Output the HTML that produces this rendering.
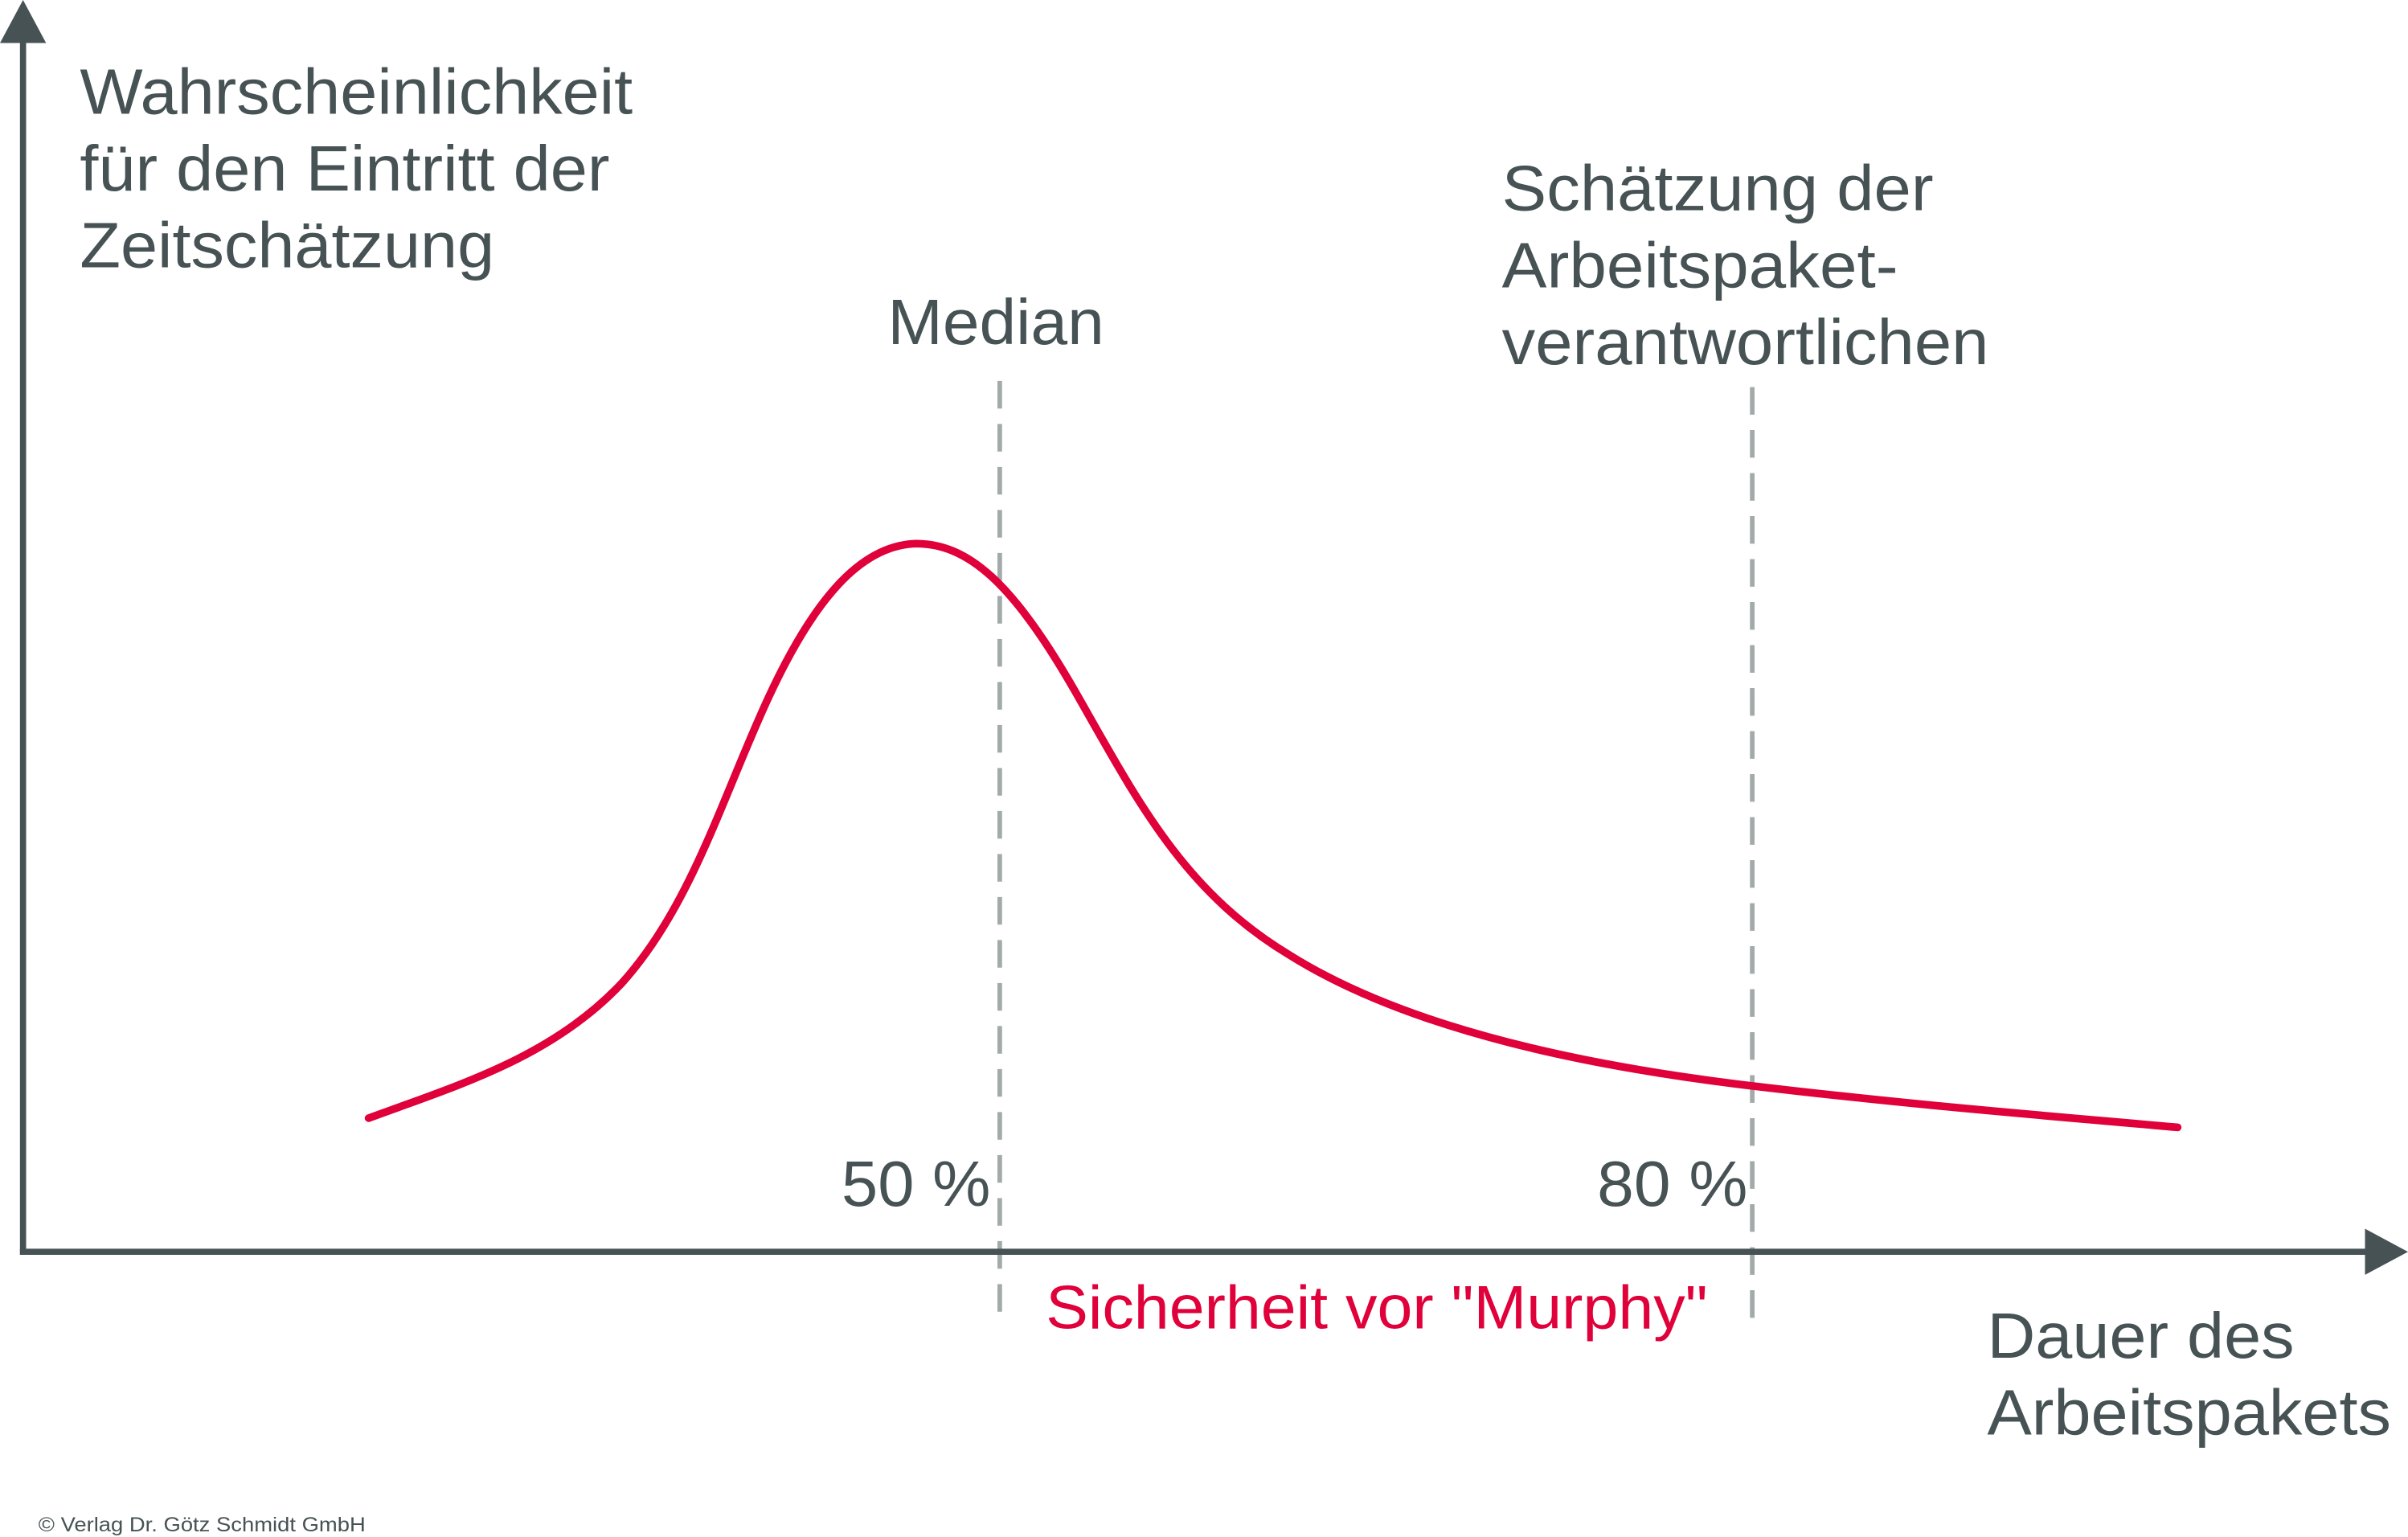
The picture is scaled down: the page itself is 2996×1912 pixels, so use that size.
<!DOCTYPE html>
<html><head><meta charset="utf-8"><style>html,body{margin:0;padding:0;background:#fff}svg{display:block}</style></head>
<body>
<svg width="2996" height="1912" viewBox="0 0 1568 1000.7" preserveAspectRatio="none" xmlns="http://www.w3.org/2000/svg" font-family="Liberation Sans, sans-serif">
<g stroke="#a3aaaa" stroke-width="3" stroke-dasharray="18,10">
<line x1="651" y1="248" x2="651" y2="860"/>
<line x1="1141" y1="252" x2="1141" y2="860"/>
</g>
<path d="M240,728 C300,706 360,688 405,640 C450,590 470,520 500,455 C530,390 560,356 595,354 C630,353 660,380 700,450 C740,520 770,580 840,622 C920,672 1040,695 1141,707 C1250,720 1340,727 1418,734" fill="none" stroke="#e0003a" stroke-width="5" stroke-linecap="round"/>
<g stroke="#465254" stroke-width="4" fill="#465254">
<line x1="15" y1="26" x2="15" y2="817"/>
<line x1="13" y1="815" x2="1542" y2="815"/>
</g>
<polygon points="15,0 0,28 30,28" fill="#465254"/>
<polygon points="1568,815 1540,800 1540,830" fill="#465254"/>
<g fill="#465254" font-size="42">
<text x="52" y="74" textLength="360" lengthAdjust="spacingAndGlyphs">Wahrscheinlichkeit</text>
<text x="52" y="124" textLength="345" lengthAdjust="spacingAndGlyphs">für den Eintritt der</text>
<text x="52" y="174" textLength="270" lengthAdjust="spacingAndGlyphs">Zeitschätzung</text>
<text x="578" y="224" textLength="141" lengthAdjust="spacingAndGlyphs">Median</text>
<text x="978" y="137" textLength="281" lengthAdjust="spacingAndGlyphs">Schätzung der</text>
<text x="978" y="187" textLength="258" lengthAdjust="spacingAndGlyphs">Arbeitspaket-</text>
<text x="978" y="237" textLength="317" lengthAdjust="spacingAndGlyphs">verantwortlichen</text>
<text x="548" y="785" textLength="97" lengthAdjust="spacingAndGlyphs">50 %</text>
<text x="1040" y="785" textLength="98" lengthAdjust="spacingAndGlyphs">80 %</text>
<text x="1294" y="884" textLength="200" lengthAdjust="spacingAndGlyphs">Dauer des</text>
<text x="1294" y="934" textLength="263" lengthAdjust="spacingAndGlyphs">Arbeitspakets</text>
</g>
<text x="681" y="865" font-size="40" fill="#e0003a" textLength="431" lengthAdjust="spacingAndGlyphs">Sicherheit vor "Murphy"</text>
<text x="25" y="997" font-size="13" fill="#465254" textLength="213" lengthAdjust="spacingAndGlyphs">© Verlag Dr. Götz Schmidt GmbH</text>
</svg>
</body></html>
